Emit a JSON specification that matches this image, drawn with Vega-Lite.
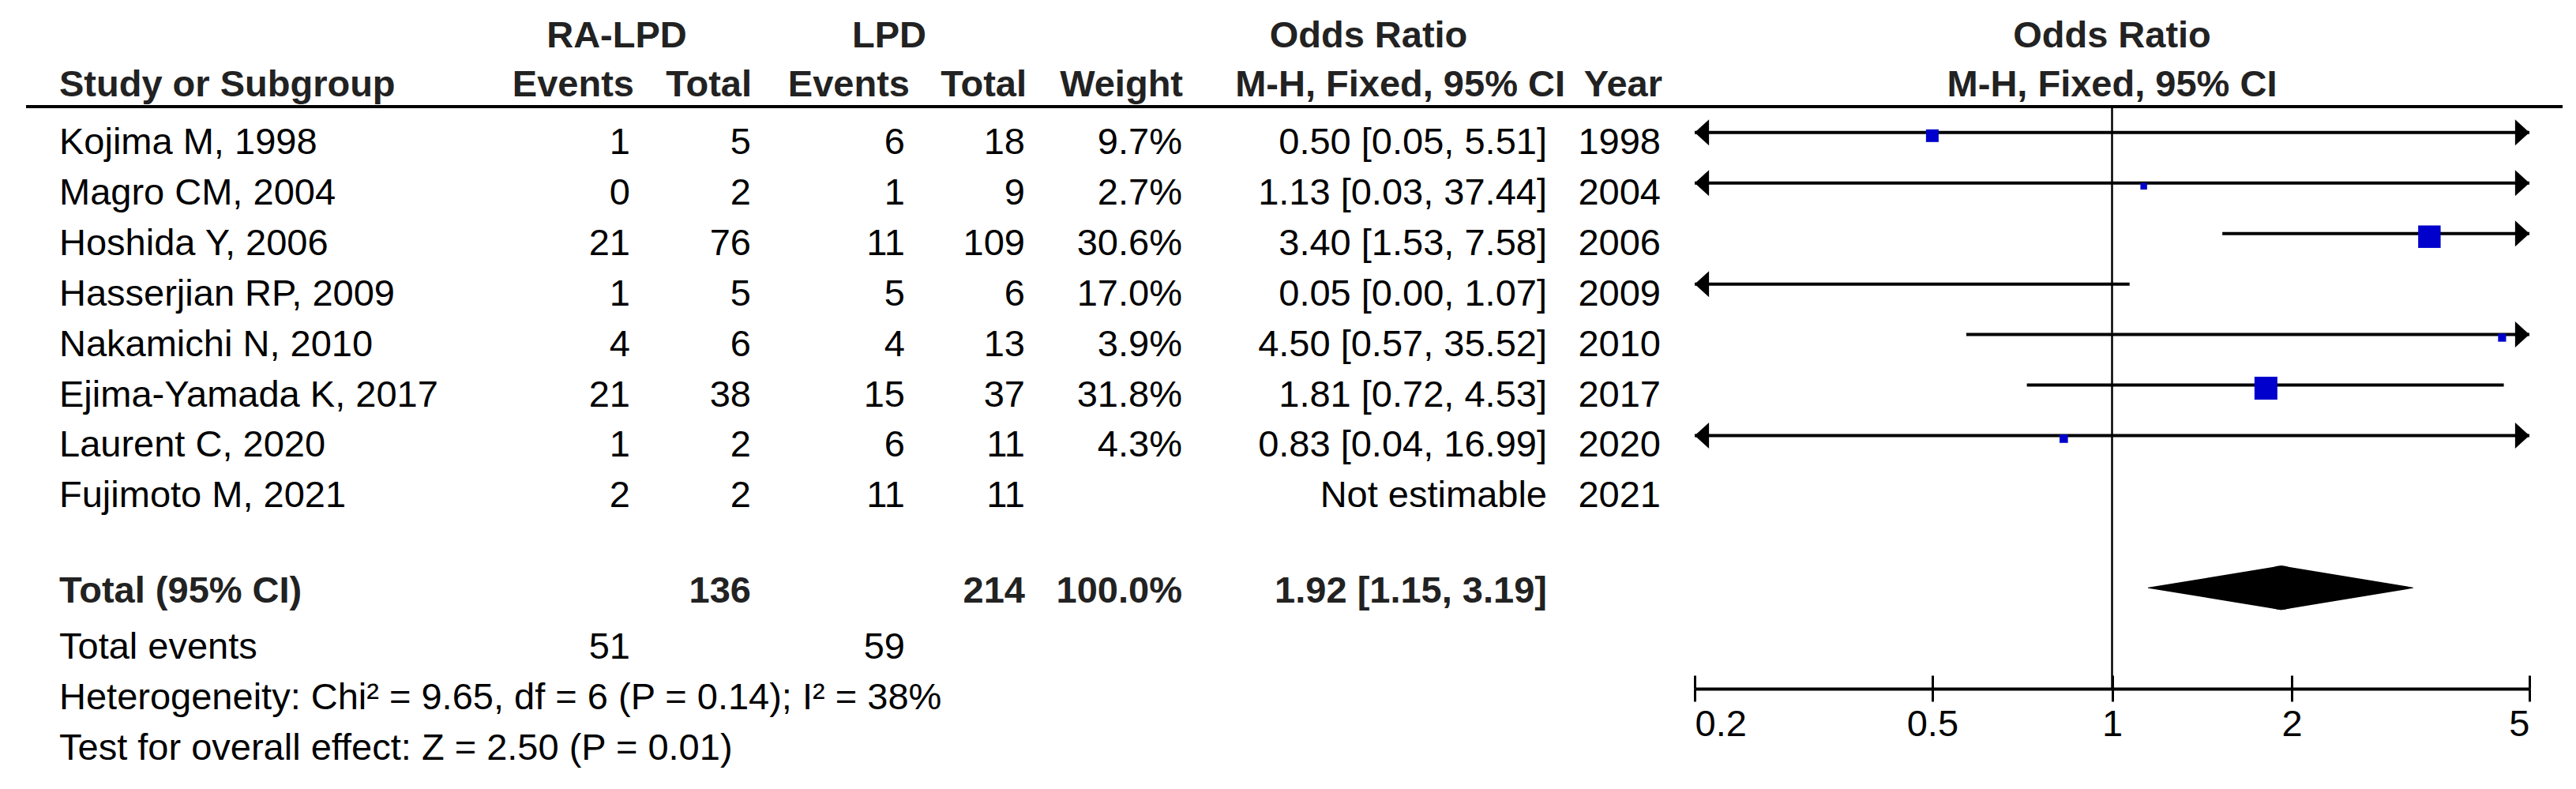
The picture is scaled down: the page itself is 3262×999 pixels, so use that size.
{
  "$schema": "https://vega.github.io/schema/vega-lite/v6.json",
  "width": 3212,
  "height": 999,
  "autosize": {"type": "none"},
  "padding": {"left": 33, "right": 17, "top": 0, "bottom": 0},
  "background": "white",
  "config": {
    "view": {"stroke": null},
    "font": "Liberation Sans",
    "text": {"font": "Liberation Sans", "fontSize": 47, "color": "#000000", "baseline": "alphabetic"}
  },
  "datasets": {
    "studies": [
      {"study": "Kojima M, 1998", "ra_e": 1, "ra_n": 5, "lpd_e": 6, "lpd_n": 18, "weight": 0.097, "or": 0.50, "lo": 0.05, "hi": 5.51, "or_text": "0.50 [0.05, 5.51]", "year": 1998},
      {"study": "Magro CM, 2004", "ra_e": 0, "ra_n": 2, "lpd_e": 1, "lpd_n": 9, "weight": 0.027, "or": 1.13, "lo": 0.03, "hi": 37.44, "or_text": "1.13 [0.03, 37.44]", "year": 2004},
      {"study": "Hoshida Y, 2006", "ra_e": 21, "ra_n": 76, "lpd_e": 11, "lpd_n": 109, "weight": 0.306, "or": 3.40, "lo": 1.53, "hi": 7.58, "or_text": "3.40 [1.53, 7.58]", "year": 2006},
      {"study": "Hasserjian RP, 2009", "ra_e": 1, "ra_n": 5, "lpd_e": 5, "lpd_n": 6, "weight": 0.170, "or": 0.05, "lo": 0.00, "hi": 1.07, "or_text": "0.05 [0.00, 1.07]", "year": 2009},
      {"study": "Nakamichi N, 2010", "ra_e": 4, "ra_n": 6, "lpd_e": 4, "lpd_n": 13, "weight": 0.039, "or": 4.50, "lo": 0.57, "hi": 35.52, "or_text": "4.50 [0.57, 35.52]", "year": 2010},
      {"study": "Ejima-Yamada K, 2017", "ra_e": 21, "ra_n": 38, "lpd_e": 15, "lpd_n": 37, "weight": 0.318, "or": 1.81, "lo": 0.72, "hi": 4.53, "or_text": "1.81 [0.72, 4.53]", "year": 2017},
      {"study": "Laurent C, 2020", "ra_e": 1, "ra_n": 2, "lpd_e": 6, "lpd_n": 11, "weight": 0.043, "or": 0.83, "lo": 0.04, "hi": 16.99, "or_text": "0.83 [0.04, 16.99]", "year": 2020},
      {"study": "Fujimoto M, 2021", "ra_e": 2, "ra_n": 2, "lpd_e": 11, "lpd_n": 11, "weight": null, "or": null, "lo": null, "hi": null, "or_text": "Not estimable", "year": 2021}
    ],
    "summary": [
      {"label": "Total (95% CI)", "ra_e": 51, "ra_n": 136, "lpd_e": 59, "lpd_n": 214, "weight": 1.0, "or": 1.92, "lo": 1.15, "hi": 3.19, "or_text": "1.92 [1.15, 3.19]"}
    ],
    "notes": [
      {"row": "Total events", "text": "Total events"},
      {"row": "Heterogeneity", "text": "Heterogeneity: Chi² = 9.65, df = 6 (P = 0.14); I² = 38%"},
      {"row": "Overall", "text": "Test for overall effect: Z = 2.50 (P = 0.01)"}
    ],
    "headers": [
      {"col": "ra", "row": "hdr1", "label": "RA-LPD"},
      {"col": "lpd", "row": "hdr1", "label": "LPD"},
      {"col": "orh", "row": "hdr1", "label": "Odds Ratio"},
      {"col": "study", "row": "hdr2", "label": "Study or Subgroup"},
      {"col": "ra_e", "row": "hdr2", "label": "Events"},
      {"col": "ra_n", "row": "hdr2", "label": "Total"},
      {"col": "lpd_e", "row": "hdr2", "label": "Events"},
      {"col": "lpd_n", "row": "hdr2", "label": "Total"},
      {"col": "weight", "row": "hdr2", "label": "Weight"},
      {"col": "or", "row": "hdr2", "label": "M-H, Fixed, 95% CI"},
      {"col": "year", "row": "hdr2", "label": "Year"},
      {"col": "forest", "row": "hdr1", "label": "Odds Ratio"},
      {"col": "forest", "row": "hdr2", "label": "M-H, Fixed, 95% CI"}
    ],
    "lines": [
      {"line": "header"},
      {"line": "null effect"}
    ]
  },
  "resolve": {"scale": {"x": "independent"}},
  "layer": [
    {
      "layer": [
        {
          "data": {"name": "lines"},
          "transform": [{"filter": "datum.line == 'header'"}],
          "mark": {"type": "rule", "strokeWidth": 4, "color": "#000000", "yOffset": 19},
          "encoding": {
            "y": {"datum": "hdr2", "type": "nominal", "axis": null,
              "scale": {"type": "point", "padding": 0.8125,
                "domain": ["hdr1", "hdr2", "Kojima M, 1998", "Magro CM, 2004", "Hoshida Y, 2006", "Hasserjian RP, 2009", "Nakamichi N, 2010", "Ejima-Yamada K, 2017", "Laurent C, 2020", "Fujimoto M, 2021", "gap", "Total (95% CI)", "Total events", "Heterogeneity", "Overall"]}}
          }
        },
        {
          "data": {"name": "studies"},
          "mark": {"type": "text", "align": "left", "dy": 15},
          "encoding": {
            "x": {"datum": 42, "type": "quantitative", "axis": null, "scale": {"domain": [0, 3212], "nice": false, "zero": false}},
            "y": {"field": "study", "type": "nominal", "axis": null},
            "text": {"field": "study", "type": "nominal"}
          }
        },
        {
          "data": {"name": "studies"},
          "mark": {"type": "text", "align": "right", "dy": 15},
          "encoding": {"x": {"datum": 765, "axis": null}, "y": {"field": "study", "type": "nominal", "axis": null}, "text": {"field": "ra_e", "type": "nominal"}}
        },
        {
          "data": {"name": "studies"},
          "mark": {"type": "text", "align": "right", "dy": 15},
          "encoding": {"x": {"datum": 918, "axis": null}, "y": {"field": "study", "type": "nominal", "axis": null}, "text": {"field": "ra_n", "type": "nominal"}}
        },
        {
          "data": {"name": "studies"},
          "mark": {"type": "text", "align": "right", "dy": 15},
          "encoding": {"x": {"datum": 1113, "axis": null}, "y": {"field": "study", "type": "nominal", "axis": null}, "text": {"field": "lpd_e", "type": "nominal"}}
        },
        {
          "data": {"name": "studies"},
          "mark": {"type": "text", "align": "right", "dy": 15},
          "encoding": {"x": {"datum": 1265, "axis": null}, "y": {"field": "study", "type": "nominal", "axis": null}, "text": {"field": "lpd_n", "type": "nominal"}}
        },
        {
          "data": {"name": "studies"},
          "transform": [{"filter": "isValid(datum.weight)"}],
          "mark": {"type": "text", "align": "right", "dy": 15},
          "encoding": {"x": {"datum": 1464, "axis": null}, "y": {"field": "study", "type": "nominal", "axis": null}, "text": {"field": "weight", "type": "quantitative", "format": ".1%"}}
        },
        {
          "data": {"name": "studies"},
          "mark": {"type": "text", "align": "right", "dy": 15},
          "encoding": {"x": {"datum": 1926, "axis": null}, "y": {"field": "study", "type": "nominal", "axis": null}, "text": {"field": "or_text", "type": "nominal"}}
        },
        {
          "data": {"name": "studies"},
          "mark": {"type": "text", "align": "right", "dy": 15},
          "encoding": {"x": {"datum": 2070, "axis": null}, "y": {"field": "study", "type": "nominal", "axis": null}, "text": {"field": "year", "type": "nominal"}}
        },
        {
          "data": {"name": "summary"},
          "mark": {"type": "text", "align": "left", "dy": 8, "fontWeight": "bold", "color": "#222222"},
          "encoding": {"x": {"datum": 42, "axis": null}, "y": {"field": "label", "type": "nominal", "axis": null}, "text": {"field": "label", "type": "nominal"}}
        },
        {
          "data": {"name": "summary"},
          "mark": {"type": "text", "align": "right", "dy": 8, "fontWeight": "bold", "color": "#222222"},
          "encoding": {"x": {"datum": 918, "axis": null}, "y": {"field": "label", "type": "nominal", "axis": null}, "text": {"field": "ra_n", "type": "nominal"}}
        },
        {
          "data": {"name": "summary"},
          "mark": {"type": "text", "align": "right", "dy": 8, "fontWeight": "bold", "color": "#222222"},
          "encoding": {"x": {"datum": 1265, "axis": null}, "y": {"field": "label", "type": "nominal", "axis": null}, "text": {"field": "lpd_n", "type": "nominal"}}
        },
        {
          "data": {"name": "summary"},
          "mark": {"type": "text", "align": "right", "dy": 8, "fontWeight": "bold", "color": "#222222"},
          "encoding": {"x": {"datum": 1464, "axis": null}, "y": {"field": "label", "type": "nominal", "axis": null}, "text": {"field": "weight", "type": "quantitative", "format": ".1%"}}
        },
        {
          "data": {"name": "summary"},
          "mark": {"type": "text", "align": "right", "dy": 8, "fontWeight": "bold", "color": "#222222"},
          "encoding": {"x": {"datum": 1926, "axis": null}, "y": {"field": "label", "type": "nominal", "axis": null}, "text": {"field": "or_text", "type": "nominal"}}
        },
        {
          "data": {"name": "summary"},
          "mark": {"type": "text", "align": "right", "dy": 15},
          "encoding": {"x": {"datum": 765, "axis": null}, "y": {"datum": "Total events", "type": "nominal", "axis": null}, "text": {"field": "ra_e", "type": "nominal"}}
        },
        {
          "data": {"name": "summary"},
          "mark": {"type": "text", "align": "right", "dy": 15},
          "encoding": {"x": {"datum": 1113, "axis": null}, "y": {"datum": "Total events", "type": "nominal", "axis": null}, "text": {"field": "lpd_e", "type": "nominal"}}
        },
        {
          "data": {"name": "notes"},
          "mark": {"type": "text", "align": "left", "dy": 15},
          "encoding": {"x": {"datum": 42, "axis": null}, "y": {"field": "row", "type": "nominal", "axis": null}, "text": {"field": "text", "type": "nominal"}}
        },
        {
          "data": {"name": "headers"},
          "transform": [{"filter": "datum.col == 'ra'"}],
          "mark": {"type": "text", "align": "center", "dy": 8, "fontWeight": "bold", "color": "#222222"},
          "encoding": {"x": {"datum": 748, "axis": null}, "y": {"field": "row", "type": "nominal", "axis": null}, "text": {"field": "label", "type": "nominal"}}
        },
        {
          "data": {"name": "headers"},
          "transform": [{"filter": "datum.col == 'lpd'"}],
          "mark": {"type": "text", "align": "center", "dy": 8, "fontWeight": "bold", "color": "#222222"},
          "encoding": {"x": {"datum": 1093, "axis": null}, "y": {"field": "row", "type": "nominal", "axis": null}, "text": {"field": "label", "type": "nominal"}}
        },
        {
          "data": {"name": "headers"},
          "transform": [{"filter": "datum.col == 'orh'"}],
          "mark": {"type": "text", "align": "center", "dy": 8, "fontWeight": "bold", "color": "#222222"},
          "encoding": {"x": {"datum": 1700, "axis": null}, "y": {"field": "row", "type": "nominal", "axis": null}, "text": {"field": "label", "type": "nominal"}}
        },
        {
          "data": {"name": "headers"},
          "transform": [{"filter": "datum.col == 'study'"}],
          "mark": {"type": "text", "align": "left", "dy": 6, "fontWeight": "bold", "color": "#222222"},
          "encoding": {"x": {"datum": 42, "axis": null}, "y": {"field": "row", "type": "nominal", "axis": null}, "text": {"field": "label", "type": "nominal"}}
        },
        {
          "data": {"name": "headers"},
          "transform": [{"filter": "datum.col == 'ra_e'"}],
          "mark": {"type": "text", "align": "right", "dy": 6, "fontWeight": "bold", "color": "#222222"},
          "encoding": {"x": {"datum": 770, "axis": null}, "y": {"field": "row", "type": "nominal", "axis": null}, "text": {"field": "label", "type": "nominal"}}
        },
        {
          "data": {"name": "headers"},
          "transform": [{"filter": "datum.col == 'ra_n'"}],
          "mark": {"type": "text", "align": "right", "dy": 6, "fontWeight": "bold", "color": "#222222"},
          "encoding": {"x": {"datum": 919, "axis": null}, "y": {"field": "row", "type": "nominal", "axis": null}, "text": {"field": "label", "type": "nominal"}}
        },
        {
          "data": {"name": "headers"},
          "transform": [{"filter": "datum.col == 'lpd_e'"}],
          "mark": {"type": "text", "align": "right", "dy": 6, "fontWeight": "bold", "color": "#222222"},
          "encoding": {"x": {"datum": 1119, "axis": null}, "y": {"field": "row", "type": "nominal", "axis": null}, "text": {"field": "label", "type": "nominal"}}
        },
        {
          "data": {"name": "headers"},
          "transform": [{"filter": "datum.col == 'lpd_n'"}],
          "mark": {"type": "text", "align": "right", "dy": 6, "fontWeight": "bold", "color": "#222222"},
          "encoding": {"x": {"datum": 1267, "axis": null}, "y": {"field": "row", "type": "nominal", "axis": null}, "text": {"field": "label", "type": "nominal"}}
        },
        {
          "data": {"name": "headers"},
          "transform": [{"filter": "datum.col == 'weight'"}],
          "mark": {"type": "text", "align": "right", "dy": 6, "fontWeight": "bold", "color": "#222222"},
          "encoding": {"x": {"datum": 1465, "axis": null}, "y": {"field": "row", "type": "nominal", "axis": null}, "text": {"field": "label", "type": "nominal"}}
        },
        {
          "data": {"name": "headers"},
          "transform": [{"filter": "datum.col == 'or'"}],
          "mark": {"type": "text", "align": "right", "dy": 6, "fontWeight": "bold", "color": "#222222"},
          "encoding": {"x": {"datum": 1949, "axis": null}, "y": {"field": "row", "type": "nominal", "axis": null}, "text": {"field": "label", "type": "nominal"}}
        },
        {
          "data": {"name": "headers"},
          "transform": [{"filter": "datum.col == 'year'"}],
          "mark": {"type": "text", "align": "right", "dy": 6, "fontWeight": "bold", "color": "#222222"},
          "encoding": {"x": {"datum": 2072, "axis": null}, "y": {"field": "row", "type": "nominal", "axis": null}, "text": {"field": "label", "type": "nominal"}}
        }
      ]
    },
    {
      "resolve": {"axis": {"x": "independent"}, "scale": {"size": "independent"}},
      "layer": [
        {
          "data": {"name": "studies"},
          "transform": [{"filter": "isValid(datum.lo)"}],
          "mark": {"type": "rule", "strokeWidth": 4, "color": "#000000", "yOffset": -12},
          "encoding": {
            "x": {"field": "lo", "type": "quantitative",
              "scale": {"type": "log", "domain": [0.2, 5], "range": [2113, 3170], "clamp": true, "nice": false, "zero": false},
              "axis": {"orient": "bottom", "offset": -127, "values": [0.2, 0.5, 1, 2, 5], "format": "~g", "title": null, "grid": false,
                "domain": true, "domainColor": "#000000", "domainWidth": 4, "ticks": true, "tickColor": "#000000", "tickWidth": 3, "tickSize": 16,
                "labelFont": "Liberation Sans", "labelFontSize": 47, "labelColor": "#000000", "labelPadding": 6, "labelFlush": true, "labelOverlap": false}},
            "x2": {"field": "hi"},
            "y": {"field": "study", "type": "nominal", "axis": null}
          }
        },
        {
          "data": {"name": "studies"},
          "transform": [{"filter": "isValid(datum.lo) && datum.lo < 0.2"}],
          "mark": {"type": "point", "shape": "M0,0L1.1,-1L1.1,1Z", "size": 1089, "filled": true, "color": "#000000", "opacity": 1, "strokeWidth": 0, "yOffset": -12},
          "encoding": {"x": {"field": "lo", "type": "quantitative", "axis": null}, "y": {"field": "study", "type": "nominal", "axis": null}}
        },
        {
          "data": {"name": "studies"},
          "transform": [{"filter": "isValid(datum.hi) && datum.hi > 5"}],
          "mark": {"type": "point", "shape": "M0,0L-1.1,-1L-1.1,1Z", "size": 1089, "filled": true, "color": "#000000", "opacity": 1, "strokeWidth": 0, "yOffset": -12},
          "encoding": {"x": {"field": "hi", "type": "quantitative", "axis": null}, "y": {"field": "study", "type": "nominal", "axis": null}}
        },
        {
          "data": {"name": "studies"},
          "transform": [{"filter": "isValid(datum.or) && datum.or >= 0.2 && datum.or <= 5"}],
          "mark": {"type": "square", "filled": true, "color": "#0000CC", "opacity": 1, "yOffset": -8},
          "encoding": {
            "x": {"field": "or", "type": "quantitative", "axis": null},
            "y": {"field": "study", "type": "nominal", "axis": null},
            "size": {"field": "weight", "type": "quantitative", "scale": {"type": "linear", "domain": [0, 0.318], "range": [0, 841], "zero": true}, "legend": null}
          }
        },
        {
          "data": {"name": "summary"},
          "transform": [{"fold": ["lo", "or"], "as": ["key", "value"]}],
          "mark": {"type": "trail", "color": "#000000", "yOffset": -11},
          "encoding": {
            "x": {"field": "value", "type": "quantitative", "axis": null},
            "y": {"field": "label", "type": "nominal", "axis": null},
            "size": {"field": "value", "type": "quantitative", "scale": {"zero": false, "nice": false, "range": [0, 56]}, "legend": null},
            "order": {"field": "value", "type": "quantitative"}
          }
        },
        {
          "data": {"name": "summary"},
          "transform": [{"fold": ["or", "hi"], "as": ["key", "value"]}],
          "mark": {"type": "trail", "color": "#000000", "yOffset": -11},
          "encoding": {
            "x": {"field": "value", "type": "quantitative", "axis": null},
            "y": {"field": "label", "type": "nominal", "axis": null},
            "size": {"field": "value", "type": "quantitative", "scale": {"zero": false, "nice": false, "range": [56, 0]}, "legend": null},
            "order": {"field": "value", "type": "quantitative"}
          }
        },
        {
          "data": {"name": "lines"},
          "transform": [{"filter": "datum.line == 'null effect'"}],
          "mark": {"type": "rule", "strokeWidth": 2.5, "color": "#000000", "yOffset": 19, "y2Offset": -11},
          "encoding": {
            "x": {"datum": 1, "type": "quantitative",
              "axis": {"orient": "bottom", "offset": -127, "values": [0.2, 0.5, 1, 2, 5], "domain": false, "labels": false, "grid": false, "title": null,
                "ticks": true, "tickColor": "#000000", "tickWidth": 3, "tickSize": -17}},
            "y": {"datum": "hdr2", "type": "nominal", "axis": null},
            "y2": {"datum": "Heterogeneity"}
          }
        },
        {
          "data": {"name": "headers"},
          "transform": [{"filter": "datum.col == 'forest' && datum.row == 'hdr1'"}],
          "mark": {"type": "text", "align": "center", "dy": 8, "fontWeight": "bold", "color": "#222222"},
          "encoding": {"x": {"datum": 1, "type": "quantitative", "axis": null}, "y": {"field": "row", "type": "nominal", "axis": null}, "text": {"field": "label", "type": "nominal"}}
        },
        {
          "data": {"name": "headers"},
          "transform": [{"filter": "datum.col == 'forest' && datum.row == 'hdr2'"}],
          "mark": {"type": "text", "align": "center", "dy": 6, "fontWeight": "bold", "color": "#222222"},
          "encoding": {"x": {"datum": 1, "type": "quantitative", "axis": null}, "y": {"field": "row", "type": "nominal", "axis": null}, "text": {"field": "label", "type": "nominal"}}
        }
      ]
    }
  ]
}
